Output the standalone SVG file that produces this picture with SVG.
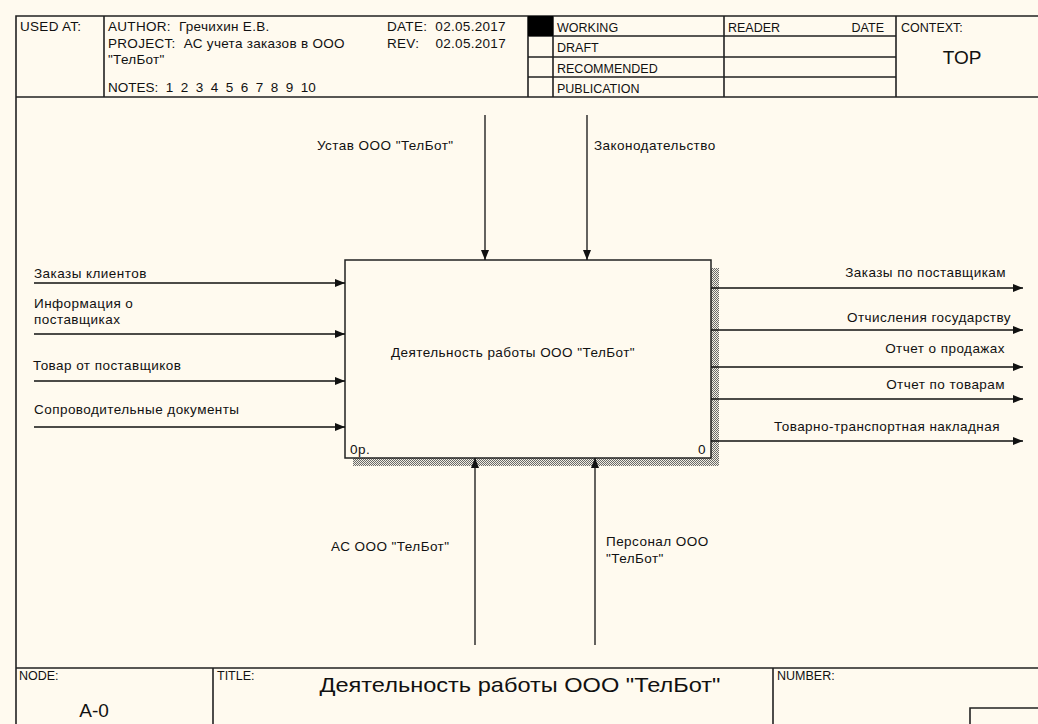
<svg xmlns="http://www.w3.org/2000/svg" width="1038" height="724" viewBox="0 0 1038 724">
<style>
.t{font-family:"Liberation Sans",Arial,sans-serif;font-size:13.5px;letter-spacing:0.45px;fill:#111}
.h{font-family:"Liberation Sans",Arial,sans-serif;font-size:13.5px;letter-spacing:0.3px;fill:#111}
.s{font-family:"Liberation Sans",Arial,sans-serif;font-size:12.5px;fill:#111}
.f{stroke:#222;stroke-width:1.6;fill:none}
.c{stroke:#111;stroke-width:1.3;fill:none}
.n{font-family:"Liberation Sans",Arial,sans-serif;font-size:12.5px;fill:#111}
</style>
<defs>
<marker id="ah" viewBox="0 0 10 8" refX="10" refY="4" markerWidth="10" markerHeight="8" markerUnits="userSpaceOnUse" orient="auto">
<path d="M0,0 L10,4 L0,8 Z" fill="#111"/>
</marker>
<pattern id="hatch" width="2" height="2" patternUnits="userSpaceOnUse">
<rect width="2" height="2" fill="#f2eee2"/>
<rect width="1" height="1" fill="#6a6a6a"/>
<rect x="1" y="1" width="1" height="1" fill="#6a6a6a"/>
</pattern>
</defs>
<rect width="1038" height="724" fill="#fffaef"/>
<g id="frame">
<path class="f" d="M16,724 V16 H1040 M16,97 H1040 M16,668 H1040"/>
<path class="f" d="M104,16 V97 M528,16 V97 M553,16 V97 M724,16 V97 M896,16 V97 M528,36 H896 M528,57 H896 M528,77 H896"/>
<rect x="528" y="16" width="25" height="20" fill="#000"/>
<path class="f" d="M213,668 V724 M773,668 V724 M970,724 V708 H1040"/>
</g>
<g id="header">
<text class="h" x="20" y="31">USED AT:</text>
<text class="h" x="108" y="31" xml:space="preserve">AUTHOR:  Гречихин Е.В.</text>
<text class="h" x="108" y="48" xml:space="preserve">PROJECT:  АС учета заказов в ООО</text>
<text class="h" x="108" y="64">"ТелБот"</text>
<text class="h" x="108" y="92" style="letter-spacing:0" xml:space="preserve">NOTES:  1  2  3  4  5  6  7  8  9  10</text>
<text class="h" x="387" y="31" xml:space="preserve">DATE:  02.05.2017</text>
<text class="h" x="387" y="48" xml:space="preserve">REV:    02.05.2017</text>
<text class="s" x="557" y="32">WORKING</text>
<text class="s" x="557" y="52">DRAFT</text>
<text class="s" x="557" y="73">RECOMMENDED</text>
<text class="s" x="557" y="93">PUBLICATION</text>
<text class="s" x="728" y="32">READER</text>
<text class="s" x="884" y="32" text-anchor="end">DATE</text>
<text class="s" x="901" y="32">CONTEXT:</text>
<text x="962" y="64" text-anchor="middle" font-family="'Liberation Sans',Arial,sans-serif" font-size="19" fill="#111">TOP</text>
</g>
<g id="footer">
<text class="n" x="19" y="680">NODE:</text>
<text class="n" x="217" y="680">TITLE:</text>
<text class="n" x="777" y="680">NUMBER:</text>
<text x="520" y="692" text-anchor="middle" font-family="'Liberation Sans',Arial,sans-serif" font-size="20.5" fill="#111" transform="translate(520 692) scale(1.15 1) translate(-520 -692)">Деятельность работы ООО "ТелБот"</text>
<text x="94" y="717" text-anchor="middle" font-family="'Liberation Sans',Arial,sans-serif" font-size="19" fill="#111">A-0</text>
</g>
<g id="A0">
<rect x="711" y="268" width="8" height="198" fill="url(#hatch)"/>
<rect x="353" y="458" width="366" height="8" fill="url(#hatch)"/>
<rect x="345" y="260" width="366" height="198" fill="#fffaef" stroke="#222" stroke-width="1.5"/>
<text class="t" x="513" y="357" text-anchor="middle">Деятельность работы ООО "ТелБот"</text>
<text class="t" x="350" y="454">0р.</text>
<text class="t" x="706" y="454" text-anchor="end">0</text>
</g>
<g id="connectors">
<path class="c" marker-end="url(#ah)" d="M34,283 H345"/>
<path class="c" marker-end="url(#ah)" d="M34,334 H345"/>
<path class="c" marker-end="url(#ah)" d="M34,381 H345"/>
<path class="c" marker-end="url(#ah)" d="M34,427 H345"/>
<path class="c" marker-end="url(#ah)" d="M711,288 H1023"/>
<path class="c" marker-end="url(#ah)" d="M711,330 H1023"/>
<path class="c" marker-end="url(#ah)" d="M711,367 H1023"/>
<path class="c" marker-end="url(#ah)" d="M711,399 H1023"/>
<path class="c" marker-end="url(#ah)" d="M711,441 H1023"/>
<path class="c" marker-end="url(#ah)" d="M485,115 V260"/>
<path class="c" marker-end="url(#ah)" d="M587,115 V260"/>
<path class="c" marker-end="url(#ah)" d="M475,645 V458"/>
<path class="c" marker-end="url(#ah)" d="M595,645 V458"/>
</g>
<g id="labels">
<text class="t" x="34" y="278">Заказы клиентов</text>
<text class="t" x="34" y="308">Информация о</text>
<text class="t" x="34" y="324">поставщиках</text>
<text class="t" x="33" y="370">Товар от поставщиков</text>
<text class="t" x="34" y="414">Сопроводительные документы</text>
<text class="t" x="1006" y="277" text-anchor="end">Заказы по поставщикам</text>
<text class="t" x="1011" y="322" text-anchor="end">Отчисления государству</text>
<text class="t" x="1005" y="353" text-anchor="end">Отчет о продажах</text>
<text class="t" x="1005" y="389" text-anchor="end">Отчет по товарам</text>
<text class="t" x="1000" y="431" text-anchor="end">Товарно-транспортная накладная</text>
<text class="t" x="317" y="150">Устав ООО "ТелБот"</text>
<text class="t" x="594" y="150">Законодательство</text>
<text class="t" x="331" y="551">АС ООО "ТелБот"</text>
<text class="t" x="606" y="546">Персонал ООО</text>
<text class="t" x="606" y="563">"ТелБот"</text>
</g>
</svg>
